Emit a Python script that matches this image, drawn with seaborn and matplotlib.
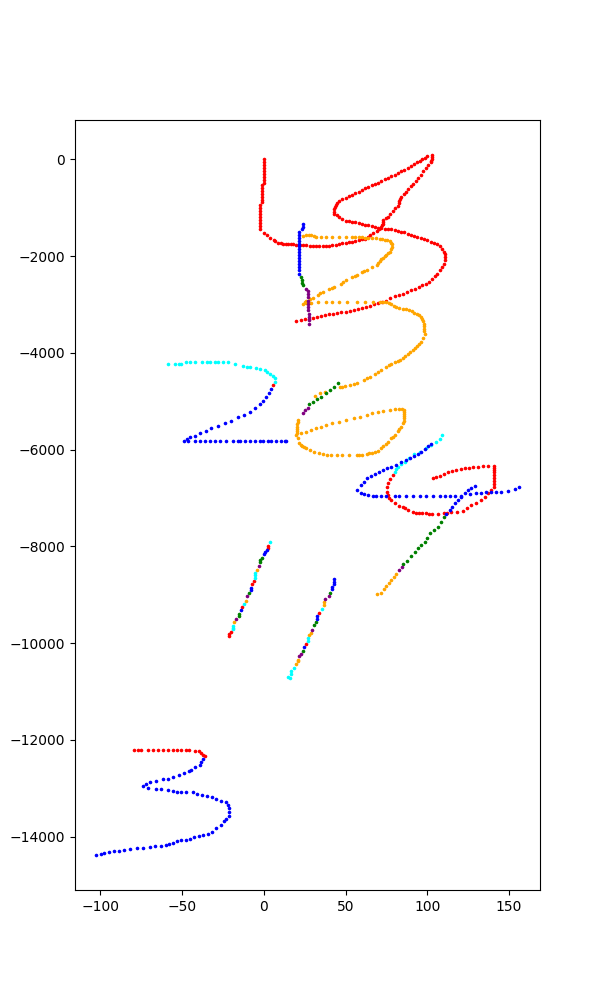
#!/usr/bin/env python3

"""Scatter of pen strokes, coloured by segment."""

import matplotlib

matplotlib.use("Agg")
import matplotlib.pyplot as plt
import seaborn as sns

red_points = [
    # top stroke
    (0, 0), (0, -60), (0, -120), (0, -180), (0, -240), (0, -300), (0, -360), (0, -420), (0, -480),
    (-1, -530), (-1, -590), (-1, -650), (-1, -710), (-1, -770), (-1, -830), (-1, -880),
    (-2, -950), (-2, -1010), (-2, -1070), (-2, -1130), (-2, -1190), (-2, -1250), (-2, -1310), (-2, -1370), (-2, -1450),
    (0, -1520), (2, -1570), (4, -1630), (6, -1670), (9, -1720), (12, -1740), (15, -1745), (18, -1760), (22, -1770),
    (26, -1780), (30, -1785), (34, -1785), (38, -1785), (42, -1780), (46, -1745), (50, -1730), (54, -1700),
    (58, -1670), (62, -1640), (65, -1560), (69, -1480), (72, -1400), (73, -1330), (73, -1250), (76, -1190),
    (79, -1060), (82, -960), (83, -860), (84, -770), (87, -680), (90, -560), (93, -450), (96, -320), (99, -180),
    (102, -60), (103, 0), (103, 90), (100, 60), (97, 10), (94, -60), (90, -130), (86, -210), (82, -280), (78, -350),
    (74, -410), (70, -480), (66, -530), (62, -600), (58, -670), (54, -740), (50, -790), (46, -860), (44, -950),
    (43, -1030), (43, -1130), (46, -1190), (50, -1270), (54, -1290), (58, -1320), (62, -1350), (66, -1380),
    (70, -1410), (74, -1430), (78, -1450), (82, -1480), (86, -1510), (90, -1570), (94, -1610), (98, -1650),
    (102, -1700), (106, -1750), (109, -1850), (111, -1960), (111, -2090), (109, -2220), (106, -2360), (103, -2480),
    (99, -2570), (95, -2640), (90, -2700), (85, -2780), (80, -2830), (75, -2920), (70, -2970), (65, -3030),
    (60, -3070), (55, -3110), (50, -3150), (45, -3180), (40, -3200), (35, -3240), (30, -3270), (25, -3310), (20, -3350),
    # second reading along the same stroke
    (7, -1690), (10.5, -1735), (13.5, -1742), (16.5, -1750), (20, -1765), (24, -1775), (28, -1783), (32, -1785),
    (36, -1785), (40, -1785), (44, -1765), (48, -1735), (52, -1715), (56, -1685), (60, -1655), (63.5, -1600),
    (67, -1520), (70.5, -1440), (72.5, -1365), (73, -1290), (75, -1220), (77.5, -1125), (80.5, -1010), (82.5, -910),
    (83.5, -815), (85.5, -725), (88.5, -620), (91.5, -505), (94.5, -385), (97.5, -250), (100.5, -120), (102.5, -30),
    (103, 40), (98.5, 35), (95.5, -25), (92, -95), (88, -170), (84, -245), (80, -315), (76, -380), (72, -445),
    (68, -505), (64, -565), (60, -635), (56, -705), (52, -765), (48, -825), (45, -905), (43.5, -990), (43, -1080),
    (44.5, -1160), (48, -1230), (52, -1280), (56, -1305), (60, -1335), (64, -1365), (68, -1395), (72, -1420),
    (76, -1440), (80, -1465), (84, -1495), (88, -1540), (92, -1590), (96, -1630), (100, -1675), (104, -1725),
    (107.5, -1800), (110, -1905), (111, -2025), (110, -2155), (107.5, -2290), (104.5, -2420), (101, -2525),
    (97, -2605), (92.5, -2670), (87.5, -2740), (82.5, -2805), (77.5, -2875), (72.5, -2945), (67.5, -3000),
    (62.5, -3050), (57.5, -3090), (52.5, -3130), (47.5, -3165), (42.5, -3190), (37.5, -3220), (32.5, -3255),
    (27.5, -3290), (22.5, -3330),
    # single dot on the "2"
    (5.7, -4667),
    # loop on the right
    (103.5, -6594), (107.6, -6546), (112.7, -6470), (117.8, -6422), (122.9, -6388), (128, -6367), (134, -6333),
    (137, -6330), (140.6, -6333), (141, -6420), (141, -6525), (141, -6650), (140.6, -6766), (137.1, -6904),
    (133, -7042), (127, -7145), (124, -7200), (121.9, -7262), (114.7, -7296), (110, -7320), (106.6, -7338),
    (103, -7330), (99.5, -7317), (95, -7310), (91.3, -7296), (86.2, -7200), (83, -7160), (80.1, -7110),
    (76.6, -6993), (75.4, -6870), (75.6, -6780), (76, -6697), (79, -6525),
    (105.5, -6570), (110, -6510), (115, -6445), (120.5, -6405), (125.5, -6378), (131, -6350), (141, -6370),
    (141, -6470), (141, -6590), (141, -6710), (139, -6835), (135, -6975), (130, -7095), (118, -7280), (112, -7310),
    (101, -7325), (97, -7315), (93, -7303), (88.5, -7250), (85, -7180), (78, -7050), (76, -6930), (77.5, -6610),
    # left line
    (2.6, -7991), (2.6, -8030), (-5.9, -8707), (-7.1, -8776), (-13.3, -9258), (-20, -9774), (-21.2, -9863), (-21.2, -9810),
    # right line
    (33.8, -9381), (25.9, -10022),
    # bottom
    (-79.3, -12211), (-76.9, -12211), (-74.8, -12211), (-70.8, -12211), (-67.7, -12211), (-64.6, -12211),
    (-61.6, -12211), (-58.5, -12211), (-55.5, -12211), (-53, -12211), (-50.4, -12211), (-47.3, -12211),
    (-45.7, -12211), (-42.2, -12232), (-39.6, -12239), (-38.2, -12273), (-37.1, -12308), (-35.7, -12335),
]

orange_points = [
    # upper stroke
    (24, -1583), (26, -1556), (29, -1556), (32, -1604), (35, -1604), (38, -1604), (42, -1604), (46, -1604), (50, -1604),
    (54, -1604), (58, -1610), (62, -1618), (66, -1625), (71, -1638), (74, -1660), (77, -1687), (78.6, -1750),
    (78.6, -1810), (77, -1914), (75, -1970), (73, -2031), (71, -2110), (69, -2190), (63, -2279), (60, -2335),
    (57, -2396), (54, -2440), (50, -2499), (47, -2570), (43, -2637), (40, -2690), (36, -2740), (33, -2800), (30, -2857),
    (26, -2932), (24, -2981), (26, -2975), (29, -2967), (33, -2955), (38, -2946), (42, -2940), (46, -2940), (51, -2940),
    (57, -2940), (62, -2940), (67, -2940), (71, -2945), (75, -2953), (78, -3000), (81, -3050), (85, -3085), (89, -3118),
    (92, -3170), (95, -3222), (97, -3300), (98, -3394), (98, -3500), (98.4, -3600), (96.3, -3772), (94, -3860),
    (91, -3944), (88, -4030), (85, -4116), (82, -4170), (78, -4220), (75, -4290), (72, -4357), (68, -4430), (65, -4495),
    (61, -4565), (57, -4633), (53, -4660), (49.5, -4688), (46.4, -4715), (37.2, -4819), (34.5, -4840), (31.5, -4887),
    (27.5, -1556), (30.5, -1590), (56, -1606), (60, -1614), (64, -1622), (68.5, -1630), (72.5, -1648), (75.5, -1670),
    (78, -1720), (78, -1860), (76, -1940), (74, -2000), (72, -2070), (70, -2150), (66, -2235), (61.5, -2305),
    (55.5, -2420), (48.5, -2535), (41.5, -2665), (34.5, -2770), (28, -2895), (25, -2955), (27.5, -2970),
    (73, -2948), (76.5, -2975), (79.5, -3025), (83, -3068), (87, -3100),
    (90.5, -3145), (93.5, -3195), (96, -3260), (97.5, -3345), (98, -3450), (98.2, -3550), (97.5, -3690), (95, -3815),
    (92.5, -3900), (89.5, -3985), (86.5, -4075), (83.5, -4145), (80, -4195), (76.5, -4255), (70, -4395),
    (63, -4530), (55, -4645), (48, -4700),
    # loop under it
    (21, -5390), (20.6, -5480), (20.5, -5575), (20.5, -5665), (21.4, -5872), (23.5, -5925), (26, -5975), (31, -6044),
    (36, -6099), (41, -6120), (45, -6120), (48, -6120), (52, -6120), (57, -6120), (60, -6110), (63, -6099), (66, -6060),
    (70, -6023), (73, -5930), (76, -5837), (78, -5770), (80, -5700), (82, -5610), (84, -5528), (85, -5440), (86, -5356),
    (86, -5270), (86, -5183), (83, -5163), (80, -5170), (77, -5183), (73, -5200), (70, -5218), (66, -5250), (63, -5287),
    (59, -5320), (55, -5356), (50, -5390), (46, -5424), (42, -5460), (38, -5493), (35, -5530), (32, -5562), (29, -5595),
    (26, -5631), (23, -5665), (20, -5700),
    (20.8, -5435), (20.5, -5530), (20.5, -5620), (21, -5770), (22.5, -5900), (24.5, -5950), (28.5, -6010), (33.5, -6070),
    (38.5, -6110), (58.5, -6115), (64.5, -6080), (68, -6040),
    (71.5, -5975), (74.5, -5885), (79, -5735), (83, -5570), (85.5, -5400),
    (86, -5315), (86, -5225), (84.5, -5170),
    # tail on the long diagonal
    (81.1, -8570), (79.5, -8630), (78, -8694), (76.5, -8750), (75, -8811), (73.5, -8880), (72, -8955), (69.3, -8976),
    # left line
    (-4.1, -8494), (-10.8, -9120), (-18.1, -9567),
    # right line
    (36.9, -9154), (36.9, -9216), (28.9, -9801), (27.7, -9836), (21, -10345), (21, -10380), (19.8, -10435),
]

cyan_points = [
    # top of the "2"
    (-58.5, -4240), (-54.4, -4220), (-52, -4220), (-50.3, -4220), (-47.3, -4199), (-45, -4199), (-42, -4199), (-38, -4199),
    (-35, -4199), (-33, -4199), (-30, -4199), (-28, -4199), (-25, -4199), (-21.8, -4199), (-17.8, -4234), (-12.7, -4275),
    (-10, -4285), (-8.6, -4289), (-4.5, -4323), (-2, -4340), (0.6, -4357), (2, -4395), (4, -4440), (5.5, -4480), (6.7, -4530),
    (7.1, -4598),
    # top of the loop on the right
    (109, -5700), (107.5, -5790), (105.6, -5851), (102.5, -5906), (99, -5970), (95.4, -6044), (92, -6090), (89, -6170),
    (86.2, -6250), (84, -6300), (82.1, -6353), (81, -6400), (80.1, -6457),
    # left line
    (4.1, -7902), (-5.3, -8556), (-5.3, -8600), (-5.3, -8645), (-12, -9196), (-18.8, -9636), (-18.8, -9680), (-18.8, -9712),
    # right line
    (35.6, -9299), (27.1, -9898), (27.1, -9946), (18.5, -10517), (16.7, -10586), (16.7, -10641), (14.9, -10703), (16.1, -10731),
]

green_points = [
    (22.6, -2430), (23.2, -2490), (23.6, -2550), (24, -2602),
    (45.4, -4633), (42.8, -4700), (40.3, -4770), (37.8, -4840), (35.2, -4908), (32.6, -4960), (30.1, -5011), (27.7, -5066),
    # long diagonal
    (110.2, -7400), (108.4, -7500), (106.6, -7592), (104, -7660), (101.5, -7730), (100, -7820), (98.4, -7902),
    (96.4, -7965), (94.4, -8026), (92.4, -8110), (90.3, -8198), (87.6, -8294), (85.2, -8363),
    # left line
    (-1, -8246), (-2.5, -8315), (-2, -8280), (-9, -8969), (-15.1, -9402), (-15.1, -9440),
    # right line
    (40.5, -8969), (32, -9567), (30.8, -9629), (24, -10159),
]

purple_points = [
    (26, -2671), (27, -2730), (27, -2774), (27, -2850), (27, -2920), (27, -2990), (27, -3060), (27, -3118),
    (27.5, -3190), (27.5, -3260), (27.7, -3330), (27.7, -3407),
    (27, -5135), (25.5, -5190), (24, -5252),
    (84.6, -8432), (82.7, -8480),
    # left line
    (-2.9, -8404), (-10.2, -9030), (-16.9, -9505),
    # right line
    (39.9, -9030), (37.5, -9086), (29.5, -9726), (22.8, -10228), (21.6, -10262),
]

blue_points = [
    # short stroke at the top
    (24, -1343), (24, -1390), (23.6, -1432), (21.6, -1500), (21.6, -1560), (21.6, -1620), (21.6, -1680), (21.6, -1740),
    (21.6, -1800), (21.6, -1860), (21.6, -1920), (21.6, -1980), (21.6, -2040), (21.6, -2100), (21.6, -2160), (21.6, -2220),
    (21.6, -2280), (21.6, -2361),
    # lower part of the "2"
    (4.6, -4757), (3, -4840), (1.6, -4908), (-0.5, -4990), (-2.5, -5066), (-5.5, -5140), (-8.6, -5218), (-12, -5280),
    (-15.7, -5335), (-20, -5400), (-23.9, -5459), (-28, -5510), (-32, -5562), (-35.5, -5610), (-39.1, -5665), (-42, -5710),
    (-45.3, -5748), (-47, -5780), (-48.7, -5817),
    (-46.3, -5817), (-41.8, -5817), (-38.7, -5817), (-35.7, -5817), (-32.6, -5817), (-29.6, -5817), (-26.5, -5817),
    (-22.8, -5817), (-18.8, -5817), (-15.7, -5817), (-14.3, -5817), (-11.6, -5817), (-8.6, -5817), (-5.5, -5817),
    (-2.5, -5817), (-0.4, -5817), (2.6, -5817), (4.7, -5817), (7.7, -5817), (10.8, -5817), (12.8, -5817), (13.8, -5817),
    # long stroke on the right
    (102.5, -5885), (100.5, -5935), (98.4, -5989), (96.4, -6040), (94.4, -6099), (91.8, -6140), (89.3, -6181),
    (86.8, -6220), (84.2, -6264), (81, -6310), (78, -6353), (75.5, -6390), (73, -6422), (70.5, -6465), (67.9, -6512),
    (65.5, -6550), (63.2, -6594), (61.5, -6660), (59.7, -6732), (57.3, -6835), (59.3, -6904), (61.5, -6925), (63.8, -6945),
    (66.5, -6955), (68.9, -6966), (72, -6966), (75, -6966), (80, -6966), (83, -6966), (87.2, -6966), (91.3, -6966),
    (95.4, -6966), (99.5, -6966), (103.5, -6966), (107.6, -6966), (110.7, -6966), (113.7, -6966), (116.8, -6966),
    (120.8, -6952), (126, -6925), (130, -6905), (133, -6890), (136, -6880), (139, -6876), (142, -6876), (145.3, -6876),
    (149.4, -6849), (153.4, -6815), (156, -6773),
    (129.4, -6753), (127, -6790), (124.9, -6835), (122.8, -6900), (120.8, -6973), (118.8, -7040), (116.8, -7110),
    (115.2, -7180), (113.7, -7248), (111.7, -7324),
    # left line
    (2, -8081), (1, -8120), (0.2, -8163), (-7.8, -8865), (-7.8, -8910), (-13.9, -9320),
    # right line
    (43, -8673), (43, -8730), (43, -8783), (41.7, -8831), (41.7, -8886), (32.8, -9443), (32.6, -9498), (24.6, -10084),
    # the "3" at the bottom
    (-37.1, -12397), (-38.2, -12466), (-39.2, -12514), (-41.8, -12562), (-44.3, -12631), (-45.7, -12652), (-48.8, -12686),
    (-51.8, -12728), (-55.5, -12769), (-58.5, -12810), (-61.6, -12810), (-66, -12851), (-69.3, -12872), (-71.8, -12913),
    (-73.8, -12955), (-70.8, -12996), (-66, -13017), (-63, -13017), (-58.5, -13037), (-55.5, -13065), (-53, -13079),
    (-50.4, -13079), (-47.3, -13079), (-43.3, -13086), (-40.8, -13120), (-37.8, -13141), (-34.7, -13154), (-31.6, -13182),
    (-29, -13223), (-26, -13258), (-23.3, -13292), (-21.9, -13340), (-21.3, -13409), (-21.3, -13498), (-21.3, -13581),
    (-22.9, -13636), (-24.3, -13684), (-26.3, -13753), (-29, -13822), (-31.4, -13905), (-34.1, -13946), (-37.1, -13960),
    (-39.8, -13994), (-42.6, -14015), (-45.3, -14042), (-47.3, -14063), (-50.4, -14070), (-53, -14084), (-55.5, -14125),
    (-57.9, -14152), (-60, -14180), (-63, -14194), (-66.3, -14194), (-69.3, -14214), (-73.8, -14235), (-77.3, -14235),
    (-81.5, -14256), (-85.4, -14276), (-88.5, -14297), (-91.5, -14304), (-94.6, -14324), (-97.6, -14338), (-99.7, -14359),
    (-102.5, -14380),
]


def main():
    """Main entry point."""
    _, ax = plt.subplots(figsize=(6, 10))
    for points, color in (
        (red_points, "red"),
        (orange_points, "orange"),
        (cyan_points, "cyan"),
        (green_points, "green"),
        (purple_points, "purple"),
        (blue_points, "blue"),
    ):
        xs, ys = zip(*points)
        sns.scatterplot(
            x=list(xs), y=list(ys), ax=ax, color=color, s=1.2, linewidth=1.5, edgecolor="face"
        )
    plt.savefig("out.png", dpi=100)
    plt.close()


if __name__ == "__main__":
    main()
